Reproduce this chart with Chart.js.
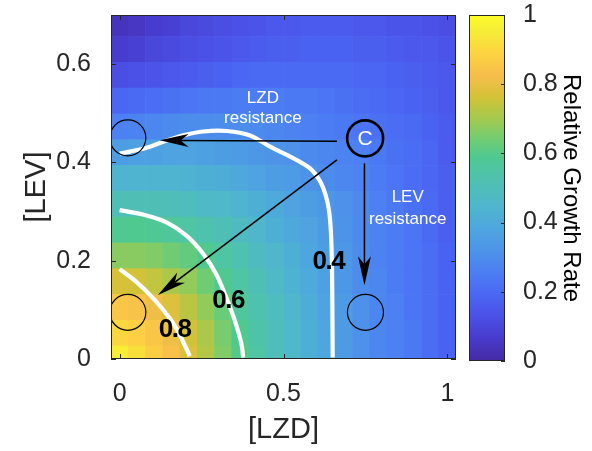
<!DOCTYPE html>
<html><head><meta charset="utf-8">
<script src="https://cdn.jsdelivr.net/npm/chart.js@4.4.1/dist/chart.umd.min.js"></script>
<style>
html,body{margin:0;padding:0;background:#fff;}
#wrap{position:relative;width:592px;height:451px;overflow:hidden;}
#main{position:absolute;left:0;top:0;}
#cbar{position:absolute;left:460px;top:0;}
</style></head><body>
<div id="wrap"><canvas id="main" width="460" height="451"></canvas><canvas id="cbar" width="132" height="451"></canvas></div>
<script>
// ---------- data ----------
const lzd = [0,0.0526,0.1053,0.1579,0.2105,0.2632,0.3158,0.3684,0.4211,0.4737,0.5263,0.5789,0.6316,0.6842,0.7368,0.7895,0.8421,0.8947,0.9474,1];
const lev = [0,0.0525,0.105,0.1575,0.21,0.2625,0.315,0.3675,0.42,0.4725,0.525,0.5775,0.63,0.6825];
const growth = [
 [0.96,0.92,0.87,0.83,0.78,0.72,0.66,0.6,0.55,0.5,0.46,0.42,0.38,0.34,0.31,0.28,0.26,0.24,0.21,0.18],
 [0.9,0.88,0.85,0.81,0.76,0.71,0.65,0.59,0.54,0.5,0.46,0.42,0.38,0.34,0.31,0.28,0.26,0.24,0.21,0.18],
 [0.85,0.84,0.81,0.78,0.73,0.68,0.63,0.57,0.53,0.49,0.45,0.41,0.37,0.34,0.31,0.28,0.26,0.23,0.21,0.18],
 [0.77,0.76,0.74,0.71,0.68,0.64,0.59,0.55,0.51,0.47,0.43,0.4,0.36,0.33,0.3,0.28,0.25,0.23,0.21,0.18],
 [0.67,0.67,0.66,0.64,0.62,0.59,0.55,0.52,0.48,0.45,0.42,0.38,0.35,0.33,0.3,0.27,0.25,0.23,0.21,0.18],
 [0.59,0.59,0.58,0.57,0.55,0.53,0.51,0.48,0.45,0.42,0.39,0.37,0.34,0.32,0.29,0.27,0.25,0.23,0.2,0.17],
 [0.51,0.51,0.51,0.5,0.49,0.47,0.46,0.44,0.42,0.4,0.37,0.35,0.33,0.31,0.29,0.26,0.24,0.22,0.2,0.17],
 [0.44,0.44,0.44,0.44,0.43,0.42,0.41,0.39,0.37,0.35,0.34,0.32,0.3,0.28,0.27,0.25,0.23,0.21,0.19,0.17],
 [0.35,0.36,0.36,0.37,0.37,0.36,0.35,0.34,0.33,0.32,0.31,0.29,0.28,0.27,0.26,0.24,0.22,0.21,0.19,0.16],
 [0.26,0.27,0.28,0.29,0.3,0.3,0.3,0.3,0.29,0.28,0.27,0.26,0.25,0.24,0.23,0.22,0.21,0.2,0.18,0.16],
 [0.19,0.2,0.21,0.22,0.23,0.24,0.24,0.25,0.25,0.25,0.24,0.24,0.23,0.22,0.21,0.2,0.19,0.18,0.17,0.15],
 [0.12,0.13,0.14,0.15,0.16,0.17,0.18,0.19,0.2,0.2,0.2,0.2,0.2,0.2,0.19,0.19,0.18,0.17,0.16,0.15],
 [0.07,0.08,0.1,0.11,0.12,0.13,0.14,0.15,0.16,0.17,0.17,0.18,0.18,0.18,0.17,0.17,0.16,0.15,0.15,0.14],
 [0.04,0.05,0.07,0.08,0.1,0.11,0.12,0.13,0.14,0.15,0.15,0.16,0.16,0.16,0.15,0.15,0.14,0.14,0.13,0.12]
];
const contour04 = [[0,0.418],[0.031,0.422],[0.082,0.43],[0.133,0.442],[0.194,0.455],[0.255,0.463],[0.326,0.464],[0.398,0.455],[0.459,0.432],[0.52,0.412],[0.581,0.388],[0.612,0.361],[0.632,0.325],[0.642,0.284],[0.647,0.217],[0.649,0.117],[0.65,0.003]];
const contour06 = [[0,0.303],[0.071,0.294],[0.143,0.278],[0.204,0.251],[0.255,0.214],[0.296,0.171],[0.326,0.124],[0.352,0.077],[0.372,0.03],[0.377,0.003]];
const contour08 = [[0,0.183],[0.051,0.157],[0.102,0.124],[0.153,0.083],[0.183,0.05],[0.214,0.006]];
const contourLabels = ['0.4','0.6','0.8'];
const contourLabelX = [0.637,0.331,0.168];
const contourLabelY = [0.199,0.12,0.061];
const circleX = [0.025,0.025,0.75,0.749];
const circleY = [0.45,0.095,0.095,0.449];
const arrowFrom = [[0.663,0.443],[0.663,0.405],[0.747,0.398]];
const arrowTo   = [[0.122,0.445],[0.117,0.130],[0.747,0.150]];
const noteText = [['LZD','resistance'],['LEV','resistance']];
const noteX = [0.437,0.879];
const noteY = [[0.53,0.489],[0.329,0.284]];
const xTicks = [0,0.5,1];
const xTickLabels = ['0','0.5','1'];
const yTicks = [0,0.2,0.4,0.6];
const yTickLabels = ['0','0.2','0.4','0.6'];
const cbTicks = [0,0.2,0.4,0.6,0.8,1];
const cbTickLabels = ['0','0.2','0.4','0.6','0.8','1'];

// ---------- colormap (parula) ----------
const parulaIdx = [0,4,8,12,16,20,24,28,32,36,40,44,48,52,56,60,63];
const parulaRGB = [[0.2422,0.1504,0.6603],[0.2706,0.2147,0.8364],[0.2813,0.3006,0.9414],[0.2699,0.3892,0.9906],[0.1963,0.4847,0.9892],[0.1687,0.5703,0.9359],[0.1248,0.6459,0.8883],[0.0297,0.7082,0.8163],[0.0964,0.75,0.712],[0.2161,0.7843,0.5923],[0.3909,0.8029,0.4354],[0.6174,0.7876,0.2612],[0.8203,0.7498,0.1535],[0.9728,0.7298,0.2394],[0.9892,0.8136,0.1885],[0.9597,0.9135,0.1423],[0.9769,0.9839,0.0805]];
function parula(v){
  const p = Math.max(0,Math.min(1,v))*63;
  let k=0; while(k<parulaIdx.length-2 && p>parulaIdx[k+1]) k++;
  const t=(p-parulaIdx[k])/(parulaIdx[k+1]-parulaIdx[k]);
  const a=parulaRGB[k], b=parulaRGB[k+1];
  let c=a.map((ai,n)=>ai+(b[n]-ai)*t);
  c[0]=Math.max(c[0],0.27);
  const lum=0.299*c[0]+0.587*c[1]+0.114*c[2];
  c=c.map(ci=>Math.round(255*Math.min(1,(ci*0.9+lum*0.1)*1.02)));
  return `rgb(${c[0]},${c[1]},${c[2]})`;
}

const FONT = "'Liberation Sans', Arial, Helvetica, sans-serif";
const TXT = '#262626';
Chart.defaults.font.family = FONT;
const noPad = s => { s.paddingTop=0; s.paddingBottom=0; s.paddingLeft=0; s.paddingRight=0; };

// ---------- heatmap datasets ----------
function rowLo(j){ return j===0 ? lev[0]-(lev[1]-lev[0])/2 : (lev[j-1]+lev[j])/2; }
function rowHi(j){ const n=lev.length-1; return j===n ? lev[n]+(lev[n]-lev[n-1])/2 : (lev[j]+lev[j+1])/2; }
const heatSets = lev.map((yv,j)=>({
  type:'bar',
  data: lzd.map((xv,i)=>({x:xv, y:[rowLo(j), rowHi(j)]})),
  backgroundColor: growth[j].map(parula),
  borderWidth:0, grouped:false, barPercentage:1, categoryPercentage:1, order:10
}));
const lineSet = pts => ({type:'line', data: pts.map(p=>({x:p[0],y:p[1]})), borderColor:'#ffffff', borderWidth:4.2, pointRadius:0, tension:0.3, fill:false, order:2});

const overlay = {
  id:'overlay',
  afterDatasetsDraw(chart){
    const {ctx, scales:{x,y}} = chart;
    ctx.save();
    ctx.fillStyle='#000'; ctx.strokeStyle='#000';
    arrowFrom.forEach((f,k)=>{
      const x0=x.getPixelForValue(f[0]), y0=y.getPixelForValue(f[1]);
      const x1=x.getPixelForValue(arrowTo[k][0]), y1=y.getPixelForValue(arrowTo[k][1]);
      const dx=x1-x0, dy=y1-y0, len=Math.hypot(dx,dy), ux=dx/len, uy=dy/len, px=-uy, py=ux;
      const L=29, W=6.5, N=21;
      ctx.beginPath(); ctx.moveTo(x0,y0); ctx.lineTo(x1-ux*N,y1-uy*N); ctx.lineWidth=1.5; ctx.stroke();
      ctx.beginPath(); ctx.moveTo(x1,y1); ctx.lineTo(x1-ux*L+px*W,y1-uy*L+py*W); ctx.lineTo(x1-ux*N,y1-uy*N); ctx.lineTo(x1-ux*L-px*W,y1-uy*L-py*W); ctx.closePath(); ctx.fill();
    });
    ctx.fillStyle='#ffffff'; ctx.font=`17px ${FONT}`; ctx.textAlign='center'; ctx.textBaseline='middle';
    noteText.forEach((lines,k)=>lines.forEach((t,m)=>ctx.fillText(t, x.getPixelForValue(noteX[k]), y.getPixelForValue(noteY[k][m]))));
    ctx.font=`21px ${FONT}`;
    ctx.fillText('C', x.getPixelForValue(circleX[3]), y.getPixelForValue(circleY[3])+1);
    ctx.fillStyle='#000'; ctx.font=`bold 26px ${FONT}`;
    try{ ctx.letterSpacing='-1.5px'; }catch(e){}
    contourLabels.forEach((t,k)=>ctx.fillText(t, x.getPixelForValue(contourLabelX[k]), y.getPixelForValue(contourLabelY[k])+1));
    ctx.restore();
  },
  afterDraw(chart){
    const {ctx, chartArea:a, scales:{x,y}} = chart;
    ctx.save();
    ctx.strokeStyle=TXT; ctx.lineWidth=1;
    ctx.strokeRect(a.left+0.5,a.top+0.5,a.right-a.left-1,a.bottom-a.top-1);
    ctx.beginPath();
    xTicks.forEach(v=>{const p=Math.round(x.getPixelForValue(v))+0.5; ctx.moveTo(p,a.bottom); ctx.lineTo(p,a.bottom-5); ctx.moveTo(p,a.top); ctx.lineTo(p,a.top+5);});
    yTicks.forEach(v=>{const p=Math.round(y.getPixelForValue(v))+0.5; ctx.moveTo(a.left,p); ctx.lineTo(a.left+5,p); ctx.moveTo(a.right,p); ctx.lineTo(a.right-5,p);});
    ctx.stroke();
    ctx.restore();
  }
};

new Chart(document.getElementById('main'), {
  type:'bar',
  data:{ datasets:[
    {type:'scatter', data: circleX.map((v,i)=>({x:v,y:circleY[i]})), pointRadius:18, pointBorderWidth:[1.2,1.2,1.2,2.6], pointBorderColor:'#000', pointBackgroundColor:'rgba(0,0,0,0)', order:1},
    lineSet(contour04), lineSet(contour06), lineSet(contour08),
    ...heatSets
  ]},
  options:{
    responsive:false, animation:false, events:[],
    layout:{autoPadding:false, padding:{top:15,right:4,left:0,bottom:0}},
    plugins:{legend:{display:false}, tooltip:{enabled:false}},
    scales:{
      x:{type:'linear', min:-0.0263, max:1.0263, offset:false,
         afterFit:s=>{s.height=92; noPad(s);},
         afterBuildTicks:s=>{s.ticks=xTicks.map(v=>({value:v}));},
         ticks:{callback:(v,i)=>xTickLabels[i], font:{size:25}, color:TXT, padding:12, maxRotation:0, autoSkip:false},
         grid:{display:false}, border:{display:false},
         title:{display:true, text:'[LZD]', font:{size:29}, color:TXT, padding:{bottom:4,top:0}}},
      y:{type:'linear', min:0, max:0.7,
         afterFit:s=>{s.width=111; noPad(s);},
         afterBuildTicks:s=>{s.ticks=yTicks.map(v=>({value:v}));},
         ticks:{callback:(v,i)=>yTickLabels[i], font:{size:25}, color:TXT, padding:12, autoSkip:false},
         grid:{display:false}, border:{display:false},
         title:{display:true, text:'[LEV]', font:{size:29}, color:TXT, padding:{top:20,bottom:0}}}
    }
  },
  plugins:[overlay]
});

// ---------- colorbar ----------
const cbFrame = {
  id:'cbFrame',
  afterDraw(chart){
    const {ctx, chartArea:a, scales:{y}} = chart;
    ctx.save(); ctx.strokeStyle=TXT; ctx.lineWidth=1;
    ctx.strokeRect(a.left+0.5,a.top+0.5,a.right-a.left-1,a.bottom-a.top-1);
    ctx.beginPath();
    cbTicks.forEach(v=>{const p=Math.round(y.getPixelForValue(v))+0.5; ctx.moveTo(a.right,p); ctx.lineTo(a.right-4,p);});
    ctx.stroke(); ctx.restore();
  }
};
new Chart(document.getElementById('cbar'), {
  type:'bar',
  data:{labels:[''], datasets:[{data:[[0,1]], borderWidth:0, barPercentage:1, categoryPercentage:1,
    backgroundColor:(c)=>{ const ch=c.chart, a=ch.chartArea; if(!a) return '#888';
      const g=ch.ctx.createLinearGradient(0,a.bottom,0,a.top);
      for(let k=0;k<=63;k++) g.addColorStop(k/63, parula(k/63));
      return g; }}]},
  options:{
    responsive:false, animation:false, events:[],
    layout:{autoPadding:false, padding:{left:9,top:15,bottom:90,right:0}},
    plugins:{legend:{display:false}, tooltip:{enabled:false}},
    scales:{
      x:{display:false, afterFit:noPad},
      y:{position:'right', min:0, max:1,
         afterFit:s=>{s.width=87; noPad(s);},
         afterBuildTicks:s=>{s.ticks=cbTicks.map(v=>({value:v}));},
         ticks:{callback:(v,i)=>cbTickLabels[i], font:{size:25}, color:TXT, padding:10, autoSkip:false},
         grid:{display:false}, border:{display:false},
         title:{display:true, text:'Relative Growth Rate', font:{size:24}, color:'#000', padding:{top:7,bottom:0}}}
    }
  },
  plugins:[cbFrame]
});
</script>
</body></html>
